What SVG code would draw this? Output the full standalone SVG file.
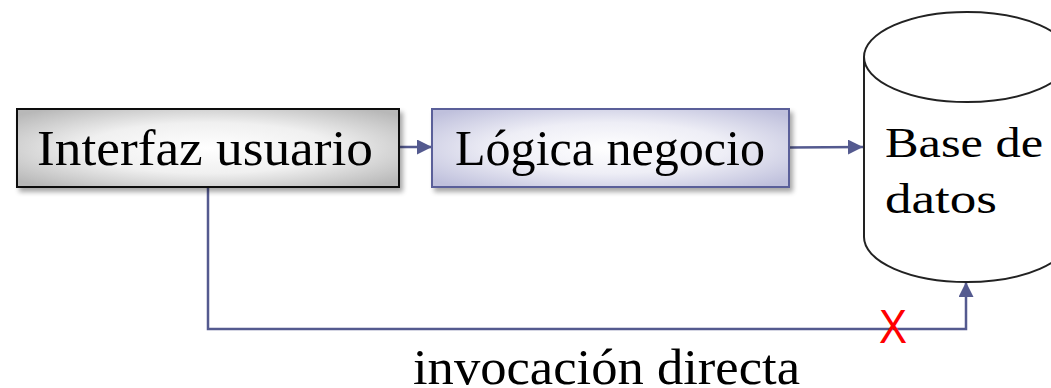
<svg xmlns="http://www.w3.org/2000/svg" width="1051" height="388" viewBox="0 0 1051 388">
<style>
.t{font-family:"Liberation Serif","DejaVu Serif",serif;fill:#000}
.c{fill:none;stroke:#545a8f;stroke-width:2.5}
</style>
<defs>
<radialGradient id="g1" cx="50%" cy="50%" r="65%">
<stop offset="0" stop-color="#ffffff"/><stop offset="0.5" stop-color="#f0f0f0"/><stop offset="1" stop-color="#b8b8b8"/>
</radialGradient>
<radialGradient id="g2" cx="50%" cy="50%" r="65%">
<stop offset="0" stop-color="#ffffff"/><stop offset="0.5" stop-color="#eeeef6"/><stop offset="1" stop-color="#bfc0dc"/>
</radialGradient>
<filter id="sh" x="-10%" y="-20%" width="130%" height="150%">
<feGaussianBlur in="SourceAlpha" stdDeviation="2.5"/>
<feOffset dx="3" dy="4" result="b"/>
<feComponentTransfer><feFuncA type="linear" slope="0.35"/></feComponentTransfer>
<feMerge><feMergeNode/><feMergeNode in="SourceGraphic"/></feMerge>
</filter>
<marker id="ah" viewBox="0 0 10 10" refX="10" refY="5" markerWidth="6" markerHeight="6" markerUnits="strokeWidth" orient="auto">
<path d="M0,0 L10,5 L0,10 Z" fill="#545a8f"/>
</marker>
</defs>
<g id="connectors">
<line class="c" x1="399" y1="147" x2="432" y2="147" marker-end="url(#ah)"/>
<line class="c" x1="789" y1="147.5" x2="863" y2="147" marker-end="url(#ah)"/>
<polyline class="c" points="208,187 208,329 966,329 966,282" marker-end="url(#ah)"/>
</g>
<g id="interfaz">
<rect x="17" y="109" width="382" height="78" fill="url(#g1)" stroke="#111" stroke-width="2" filter="url(#sh)"/>
<text class="t" x="37" y="165" font-size="51" textLength="336" lengthAdjust="spacingAndGlyphs">Interfaz usuario</text>
</g>
<g id="logica">
<rect x="432" y="109" width="357" height="78" fill="url(#g2)" stroke="#5a5f99" stroke-width="2" filter="url(#sh)"/>
<text class="t" x="455" y="165" font-size="51" textLength="310" lengthAdjust="spacingAndGlyphs">Lógica negocio</text>
</g>
<g id="basedatos">
<path d="M864,57 L864,237 A103,45 0 0 0 1070,237 L1070,57" fill="#fff" stroke="#222" stroke-width="2"/>
<ellipse cx="967" cy="57" rx="103" ry="45" fill="#fff" stroke="#222" stroke-width="2"/>
<text class="t" x="885" y="157" font-size="42" textLength="158" lengthAdjust="spacingAndGlyphs">Base de</text>
<text class="t" x="885" y="213" font-size="42" textLength="112" lengthAdjust="spacingAndGlyphs">datos</text>
</g>
<g id="cross">
<text x="879" y="343" font-family="Liberation Sans, sans-serif" font-size="48" fill="#ff0000" textLength="28" lengthAdjust="spacingAndGlyphs">X</text>
</g>
<g id="label">
<text class="t" x="413" y="384" font-size="50" textLength="387" lengthAdjust="spacingAndGlyphs">invocación directa</text>
</g>
</svg>
